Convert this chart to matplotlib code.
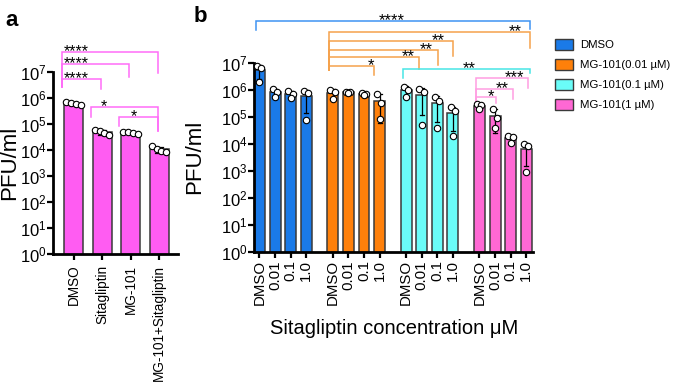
import numpy as np
import matplotlib
matplotlib.use("Agg")
import matplotlib.pyplot as plt
from matplotlib.patches import Patch
from matplotlib.ticker import LogLocator, NullLocator

plt.rcParams['font.family'] = ['Liberation Sans', 'DejaVu Sans']
plt.rcParams['mathtext.default'] = 'regular'

# ---- data ----
a_labels = ['DMSO', 'Sitagliptin', 'MG-101', 'MG-101+Sitagliptin']
a_points = [[7.0e5, 6.5e5, 6.0e5, 5.5e5],
            [6.3e4, 5.5e4, 4.5e4, 3.8e4],
            [5.2e4, 4.9e4, 4.6e4, 4.4e4],
            [1.45e4, 1.1e4, 9.5e3, 8.5e3]]

b_ticklabels = ['DMSO', '0.01', '0.1', '1.0']
b_groups = ['DMSO', 'MG-101(0.01 µM)', 'MG-101(0.1 µM)', 'MG-101(1 µM)']
b_dmso = [[7.5e6, 6.5e6, 2.0e6], [1.1e6, 8.0e5, 5.5e5],
          [9.0e5, 7.0e5, 5.0e5], [9.0e5, 7.5e5, 7.6e4]]
b_mg001 = [[1.0e6, 8.0e5, 4.5e5], [8.5e5, 8.0e5, 7.5e5],
           [7.5e5, 7.0e5, 6.3e5], [7.0e5, 3.3e5, 8.0e4]]
b_mg01 = [[1.3e6, 1.0e6, 5.5e5], [1.07e6, 8.5e5, 4.9e4],
          [5.2e5, 3.9e5, 3.7e4], [2.2e5, 1.6e5, 2.0e4]]
b_mg1 = [[3.0e5, 2.6e5, 2.0e5], [2.0e5, 8.7e4, 3.7e4],
         [1.95e4, 1.7e4, 1.1e4], [9.8e3, 8.1e3, 9.0e2]]

# significance brackets: (from bar, to bar, line level, left drop, right drop, stars)
a_sig = [(0, 1, 10**6.73, 10**6.45, 10**6.35, '****'),
         (0, 2, 10**7.31, 10**6.45, 10**6.81, '****'),
         (0, 3, 10**7.79, 10**6.45, 10**6.98, '****'),
         (1, 3, 10**5.68, 10**5.27, 10**4.75, '*'),
         (2, 3, 10**5.27, 10**4.93, 10**4.75, '*')]
b_sig = [(0, 15, 10**8.556, 10**8.21, 10**8.24, '****'),
         (4, 15, 10**8.148, 10**6.73, 10**7.556, '**'),
         (4, 11, 10**7.815, 10**6.73, 10**7.259, '**'),
         (4, 10, 10**7.47, 10**6.73, 10**6.915, '**'),
         (4, 9, 10**7.2, 10**6.73, 10**6.767, '**'),
         (4, 7, 10**6.889, 10**6.73, 10**6.544, '*'),
         (8, 15, 10**6.767, 10**6.42, 10**6.607, '**'),
         (12, 15, 10**6.422, 10**5.496, 10**6.052, '***'),
         (12, 14, 10**6.015, 10**5.496, 10**5.644, '**'),
         (12, 13, 10**5.741, 10**5.496, 10**5.496, '*')]

# ---- styles ----
a_color = '#ff5cf2'
a_line = '#ff6cf8'
b_colors = ['#1a7ae8', '#ff800a', '#6afcf8', '#ff68d4']
b_lines = ['#3f93f2', '#f5a24c', '#48e6e6', '#ff9ee2']
edge = '#3a3a3a'

fig = plt.figure(figsize=(6.75, 3.83), dpi=100)
axa = fig.add_axes([0.079, 0.336, 0.185, 0.475])
axb = fig.add_axes([0.3767, 0.3428, 0.4129, 0.4935])


def style_axis(ax, label_x):
    ax.set_yscale('log')
    ax.set_ylim(1, 1e7)
    ax.yaxis.set_major_locator(LogLocator(base=10, numticks=10))
    ax.yaxis.set_minor_locator(NullLocator())
    for s in ['top', 'right']:
        ax.spines[s].set_visible(False)
    for s in ['left', 'bottom']:
        ax.spines[s].set_linewidth(2.0)
    ax.tick_params(axis='both', width=1.6, length=4, color='black')
    ax.tick_params(axis='y', labelsize=12, pad=1)
    ax.set_ylabel('PFU/ml', fontsize=16)
    ax.yaxis.set_label_coords(label_x, 0.5)


def draw_bars(ax, x, pts, color, width, offsets, ms):
    for xi, p, c in zip(x, pts, color):
        p = np.array(p)
        m, sd = p.mean(), p.std(ddof=1)
        ax.bar(xi, m, width=width, color=c, edgecolor=edge, linewidth=1.1, zorder=2)
        lo = max(m - sd, 1.0)
        ax.plot([xi, xi], [lo, m + sd], color='black', lw=0.9, zorder=3)
        cw = 0.13
        ax.plot([xi - cw, xi + cw], [m + sd, m + sd], color='black', lw=0.9, zorder=3)
        ax.plot([xi - cw, xi + cw], [lo, lo], color='black', lw=0.9, zorder=3)
        ax.plot(xi + np.array(offsets[:len(p)]), p, 'o', ms=ms, mfc='white',
                mec='black', mew=0.8, zorder=4, clip_on=False)


def draw_sig(ax, xs, sig, colors, lx, rx, txt_x, ha, fs):
    for k, (i, j, y, yl, yr, s) in enumerate(sig):
        x0 = xs[i] + lx
        x1 = xs[j] + rx[k]
        ax.plot([x0, x0, x1, x1], [yl, y, y, yr], color=colors[k], lw=1.1,
                clip_on=False, zorder=1, solid_joinstyle='miter')
        ax.annotate(s, xy=(txt_x[k], y), xytext=(0, 0.2), textcoords='offset points',
                    ha=ha[k], va='center', fontsize=fs, clip_on=False,
                    annotation_clip=False)


# ---- panel a ----
xa = np.arange(len(a_labels))
style_axis(axa, -0.267)
draw_bars(axa, xa, a_points, [a_color] * 4, 0.67, [-0.26, -0.09, 0.08, 0.25], 4.6)
axa.set_xlim(-0.71, 3.67)
axa.set_xticks(xa)
axa.set_xticklabels(a_labels, rotation=90, fontsize=9.8)
draw_sig(axa, xa, a_sig, [a_line] * 5, -0.39, [-0.04] * 5,
         [-0.33, -0.33, -0.33, 1.07, 2.12], ['left', 'left', 'left', 'center', 'center'],
         11.5)

# ---- panel b ----
xb = np.array([g * 4.7 + i for g in range(4) for i in range(4)])
b_all = b_dmso + b_mg001 + b_mg01 + b_mg1
b_cols = [c for c in b_colors for _ in range(4)]
style_axis(axb, -0.177)
draw_bars(axb, xb, b_all, b_cols, 0.7, [-0.15, 0.12, 0.0], 4.6)
axb.set_xlim(-0.333, 17.53)
axb.set_xticks(xb)
axb.set_xticklabels(b_ticklabels * 4, rotation=90, fontsize=10.8)
axb.tick_params(axis='x', pad=2)
axb.set_xlabel('Sitagliptin concentration μM', fontsize=14.5, labelpad=10)
b_sig_cols = [b_lines[0]] + [b_lines[1]] * 5 + [b_lines[2]] + [b_lines[3]] * 3
draw_sig(axb, xb, b_sig, b_sig_cols, -0.22,
         [0.24, 0.24, -0.02, 0.06, -0.16, -0.34, 0.27, 0.13, 0.13, 0.06],
         [8.46, 16.8, 11.9, 11.1, 9.95, 7.15, 13.43, 16.95, 16.0, 14.82],
         ['center', 'right', 'right', 'right', 'right', 'center', 'center',
          'right', 'right', 'center'], 12)

# ---- legend ----
handles = [Patch(facecolor=c, edgecolor=edge, linewidth=1.0) for c in b_colors]
fig.legend(handles, b_groups, loc='upper left', bbox_to_anchor=(0.815, 0.91),
           frameon=False, fontsize=8.2, handlelength=1.65, handleheight=1.1,
           handletextpad=0.6, labelspacing=0.75, borderaxespad=0)

fig.text(0.008, 0.975, 'a', fontsize=16, fontweight='bold', va='top')
fig.text(0.287, 0.985, 'b', fontsize=16, fontweight='bold', va='top')

fig.savefig('out.png', dpi=100)
